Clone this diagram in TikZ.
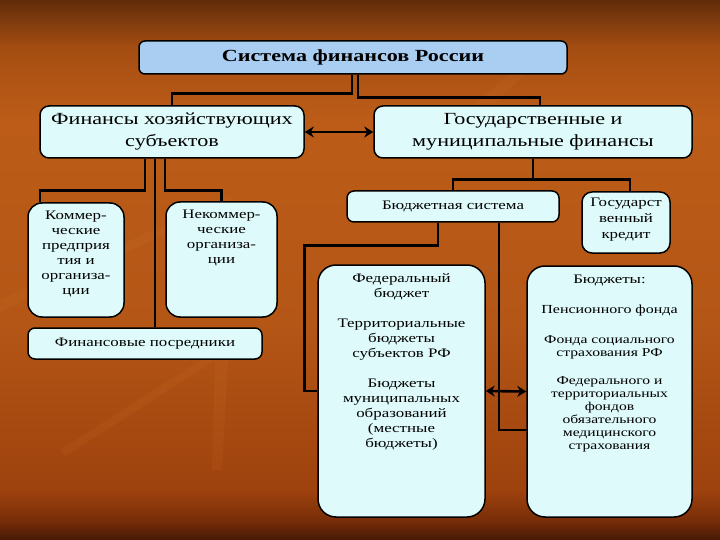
\documentclass[tikz,border=0pt]{standalone}
\usepackage{fontspec}
\setmainfont{Liberation Serif}[FakeStretch=1.3]
\usetikzlibrary{arrows.meta}
\definecolor{boxfill}{RGB}{222,250,251}
\definecolor{topfill}{RGB}{170,206,242}
\definecolor{bgA}{RGB}{70,25,5}
\definecolor{bgB}{RGB}{120,45,8}
\definecolor{bgC}{RGB}{158,66,14}
\definecolor{bgD}{RGB}{180,86,22}
\definecolor{bgE}{RGB}{188,92,24}
\definecolor{bgF}{RGB}{165,78,18}
\definecolor{bgG}{RGB}{98,44,10}
\definecolor{streak}{RGB}{235,150,70}
\pgfdeclareverticalshading{bgshade}{100bp}{color(0bp)=(bgA); color(25bp)=(bgA); color(26.8bp)=(bgB); color(29.6bp)=(bgC); color(45bp)=(bgD); color(64bp)=(bgE); color(70.5bp)=(bgF); color(75bp)=(bgG); color(100bp)=(bgG)}
\begin{document}
\begin{tikzpicture}[x=1pt,y=-1pt,
  box/.style={draw=black, line width=1.5pt, fill=boxfill, rounded corners=7pt, inner sep=0pt, align=center},
  conn/.style={draw=black, line width=2.8pt},
  dbl/.style={draw=black, line width=2.6pt, {Stealth[length=9pt,width=11pt]}-{Stealth[length=9pt,width=11pt]}},
  bigtxt/.style={font=\fontsize{17}{22}\selectfont},
  medtxt/.style={font=\fontsize{13}{15}\selectfont},
  txt/.style={align=center, inner sep=0pt, anchor=north}]

\shade[shading=bgshade] (0,0) rectangle (720,540);
\useasboundingbox (0,0) rectangle (720,540);

% faint streaks
\begin{scope}[opacity=0.07]
\fill[streak] (0,300) -- (230,195) -- (236,201) -- (0,312) -- cycle;
\fill[streak] (60,450) -- (240,335) -- (245,341) -- (66,456) -- cycle;
\fill[streak] (215,360) -- (228,360) -- (222,470) -- (212,470) -- cycle;
\fill[streak] (470,110) -- (540,45) -- (552,48) -- (488,110) -- cycle;
\end{scope}

% boxes
\node[box, fill=topfill, minimum width=428pt, minimum height=33pt, rounded corners=6pt,
      font=\bfseries\fontsize{17}{20}\selectfont] (top) at (353,57.5) {Система финансов России};
\node[box, bigtxt, minimum width=264pt, minimum height=52pt, rounded corners=9pt] (fhs) at (172,132) {Финансы хозяйствующих\\субъектов};
\node[box, bigtxt, minimum width=318pt, minimum height=52pt, rounded corners=9pt] (gmf) at (533,132) {Государственные и\\муниципальные финансы};

\node[box, minimum width=96pt, minimum height=114pt, rounded corners=14pt] (kom) at (76,260) {};
\node[txt, medtxt] (komt) at ([yshift=-9pt]kom.north) {Коммер-\\ческие\\предприя\\тия и\\организа-\\ции};
\node[box, minimum width=111pt, minimum height=115pt, rounded corners=14pt] (nek) at (221.5,259.5) {};
\node[txt, medtxt] (nekt) at ([yshift=-9pt]nek.north) {Некоммер-\\ческие\\организа-\\ции};
\node[box, medtxt, minimum width=234pt, minimum height=31pt] (fp) at (145,343.5) {Финансовые посредники};

\node[box, medtxt, minimum width=212pt, minimum height=31pt] (bs) at (453,206.5) {Бюджетная система};
\node[box, minimum width=88pt, minimum height=61pt, rounded corners=10pt] (gk) at (626,222.5) {};
\node[txt, font=\fontsize{13}{16}\selectfont] (gkt) at ([yshift=-7pt]gk.north) {Государст\\венный\\кредит};

\node[box, minimum width=167pt, minimum height=252pt, rounded corners=18pt] (fb) at (401.5,391) {};
\node[txt, medtxt] (fbt) at ([yshift=-9pt]fb.north) {Федеральный\\бюджет\\[15pt]Территориальные\\бюджеты\\субъектов РФ\\[15pt]Бюджеты\\муниципальных\\образований\\(местные\\бюджеты)};
\node[box, minimum width=165pt, minimum height=251pt, rounded corners=18pt] (bud) at (609.5,391.5) {};
\node[txt, font=\fontsize{12}{13}\selectfont] (budt) at ([yshift=-10pt]bud.north)
  {{\fontsize{13}{13}\selectfont Бюджеты:}\\[17pt]{\fontsize{12.3}{13}\selectfont Пенсионного фонда}\\[17pt]Фонда социального\\страхования РФ\\[15pt]Федерального и\\территориальных\\фондов\\обязательного\\медицинского\\страхования};

% connectors
\draw[conn] ([xshift=-1pt]top.south) -- ++(0,19) -| (fhs.north);
\draw[conn] ([xshift=5pt]top.south) -- ++(0,23) -| ([xshift=7pt]gmf.north);
\draw[dbl] (fhs.east) -- (gmf.west);

\draw[conn] ([xshift=-27pt]fhs.south) -- ++(0,32) -| ([xshift=-36pt]kom.north);
\draw[conn] ([xshift=-7pt]fhs.south) -- ++(0,32) -| (nek.north);
\draw[conn] ([xshift=-17pt]fhs.south) -- ([xshift=10pt]fp.north);

\draw[conn] (gmf.south) -- ++(0,21) coordinate (gj);
\draw[conn] (bs.north) |- (gj) -| ([xshift=4pt]gk.north);

\draw[conn] ([xshift=-15pt]bs.south) -- ++(0,23) -| ([xshift=-13pt]fb.west) -- (fb.west);
\draw[conn] ([xshift=46pt]bs.south) |- ([yshift=-38.5pt]bud.west);
\draw[dbl] (fb.east) -- (bud.west);
\end{tikzpicture}
\end{document}
